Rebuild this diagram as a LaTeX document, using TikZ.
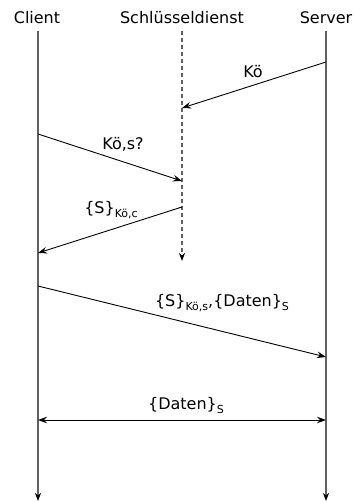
\documentclass[tikz,border=0pt]{standalone}
\usepackage{fontspec}
\setmainfont{DejaVu Sans}
\usetikzlibrary{arrows.meta}
\newcommand{\subtx}[1]{\raisebox{-0.28em}{\fontsize{11bp}{12bp}\selectfont #1}}
\tikzset{
  life/.style={draw=black!62, line width=1.3bp, -{Stealth[length=8bp,width=6bp,inset=2.5bp,color=black]}},
  lifedash/.style={life, dashed, dash pattern=on 4bp off 3bp},
  msg/.style={draw=black, line width=0.9bp, -{Stealth[length=9bp,width=6.5bp,inset=3bp]}},
  msgboth/.style={msg, {Stealth[length=9bp,width=6.5bp,inset=3bp]}-{Stealth[length=9bp,width=6.5bp,inset=3bp]}},
  hdr/.style={anchor=base, inner sep=0pt, font=\fontsize{16bp}{18bp}\selectfont},
  lbl/.style={anchor=base, inner sep=0pt, font=\fontsize{16bp}{18bp}\selectfont},
}
\begin{document}
\begin{tikzpicture}[x=1bp, y=-1bp]
\useasboundingbox (0,0) rectangle (353,502);
% headers
\node[hdr] (hc) at (37,24) {Client};
\node[hdr] (hk) at (182,24) {Schlüsseldienst};
\node[hdr] (hs) at (326,24) {Server};
% lifeline coordinates
\coordinate (c0) at (38,31);  \coordinate (c1) at (38,501);
\coordinate (k0) at (182,31); \coordinate (k1) at (182,261);
\coordinate (s0) at (326,31); \coordinate (s1) at (326,501);
\draw[life] (c0) -- (c1);
\draw[life] (s0) -- (s1);
\draw[lifedash] (k0) -- (k1);
% message endpoints
\coordinate (m1a) at (326,62);  \coordinate (m1b) at (182,108);
\coordinate (m2a) at (38,134);  \coordinate (m2b) at (182,181);
\coordinate (m3a) at (182,207); \coordinate (m3b) at (38,253);
\coordinate (m4a) at (38,286);  \coordinate (m4b) at (326,357);
\coordinate (m5a) at (38,420);  \coordinate (m5b) at (326,420);
\draw[msg] (m1a) -- (m1b);
\draw[msg] (m2a) -- (m2b);
\draw[msg] (m3a) -- (m3b);
\draw[msg] (m4a) -- (m4b);
\draw[msgboth] (m5a) -- (m5b);
% labels
\node[lbl] (l1) at (253,78) {Kö};
\node[lbl] (l2) at (123,150) {Kö,s?};
\node[lbl] (l3) at (111,213) {\{S\}\subtx{Kö,c}};
\node[lbl] (l4) at (222,306) {\{S\}\subtx{Kö,s},\{Daten\}\subtx{S}};
\node[lbl] (l5) at (186,409) {\{Daten\}\subtx{S}};
\end{tikzpicture}
\end{document}
